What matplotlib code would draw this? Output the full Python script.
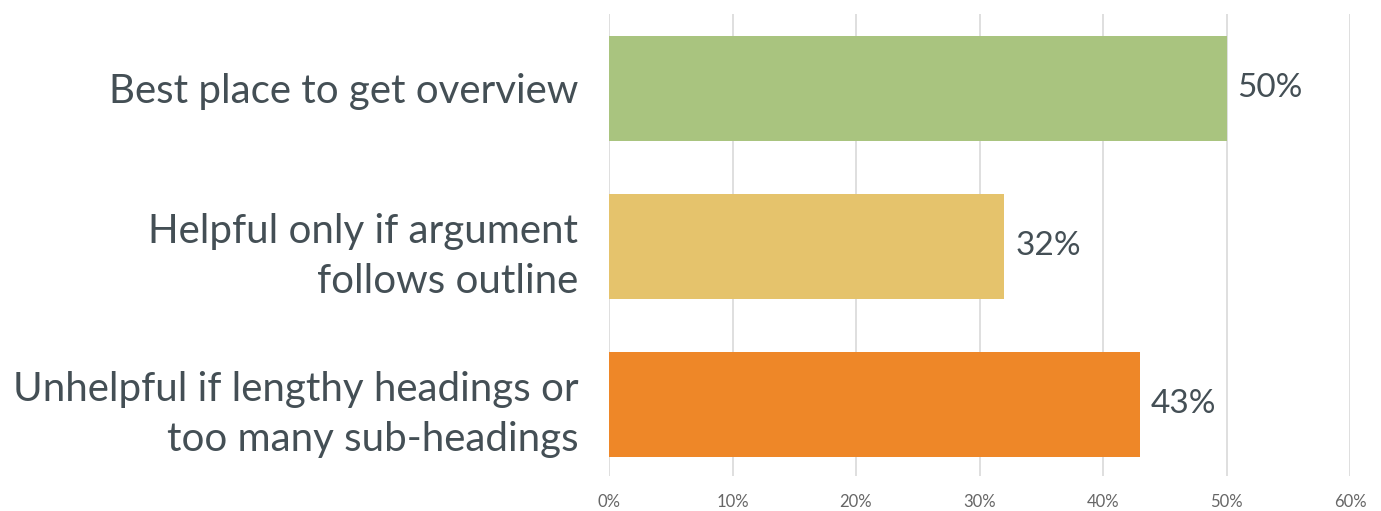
import matplotlib
matplotlib.use('Agg')
import matplotlib.pyplot as plt
from matplotlib.ticker import FuncFormatter

categories = ['Best place to get overview',
              'Helpful only if argument\nfollows outline',
              'Unhelpful if lengthy headings or\ntoo many sub-headings']
values = [50, 32, 43]
colors = ['#A9C47F', '#E5C36C', '#EE8728']
ticks = [0, 10, 20, 30, 40, 50, 60]

plt.rcParams['font.family'] = ['Lato', 'DejaVu Sans']

W, H = 1381, 511
fig = plt.figure(figsize=(W / 100, H / 100), dpi=100)
ax = fig.add_axes([609 / W, 1 - 476 / H, (1350 - 609) / W, (476 - 14) / H])

y = list(range(len(categories)))
ax.barh(y, values, height=0.665, color=colors, zorder=2)
ax.set_ylim(2.456, -0.472)
ax.set_xlim(0, 60)
ax.set_xticks(ticks)
ax.xaxis.set_major_formatter(FuncFormatter(lambda v, p: f'{int(v)}%'))
ax.grid(axis='x', color='#d9d9d9', linewidth=1.2, zorder=0)
for s in ax.spines.values():
    s.set_visible(False)
ax.tick_params(axis='x', length=0, pad=13, labelsize=12, labelcolor='#666666')
ax.tick_params(axis='y', length=0, pad=22)
ax.set_yticks(y)
ax.set_yticklabels(categories, fontsize=29, color='#444f55', linespacing=1.45)

for yi, v in zip(y, values):
    ax.text(v + 0.9, yi, f'{v}%', va='center', ha='left', fontsize=24, color='#444f55')

fig.savefig('out.png', dpi=100)
